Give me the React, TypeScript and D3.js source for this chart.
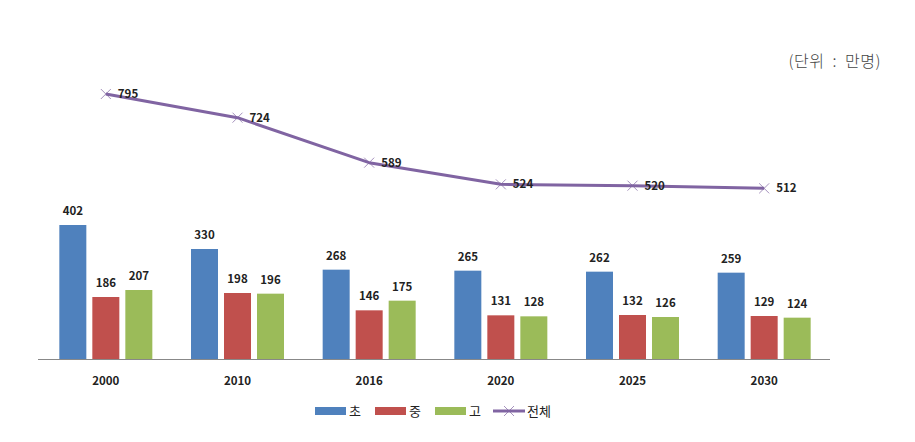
import React from "react";
import * as d3 from "d3";

const categories = ["2000", "2010", "2016", "2020", "2025", "2030"];
const elementary = [402, 330, 268, 265, 262, 259];
const middle = [186, 198, 146, 131, 132, 129];
const high = [207, 196, 175, 128, 126, 124];
const total = [795, 724, 589, 524, 520, 512];
const seriesNames = ["초", "중", "고", "전체"];
const colors = ["#4F81BD", "#C0504D", "#9BBB59", "#8064A2"];

const W = 915, H = 442;
const left = 40, right = 830, top = 59, bottom = 359;

export default function App() {
  const x = d3.scaleBand<string>().domain(categories).range([left, right]).paddingInner(0).paddingOuter(0);
  const y = d3.scaleLinear().domain([0, 900]).range([bottom, top]);
  const barW = 27, gap = 6;
  const bars = [elementary, middle, high];
  const font = "'Noto Sans CJK KR', 'Noto Sans', sans-serif";
  const lineGen = d3.line<number>()
    .x((_, i) => x(categories[i])! + x.bandwidth() / 2)
    .y((d) => y(d));
  const cross = (cx: number, cy: number, key: string) => (
    <path key={key} d={`M${cx - 5},${cy - 5}L${cx + 5},${cy + 5}M${cx - 5},${cy + 5}L${cx + 5},${cy - 5}`}
      stroke={colors[3]} strokeWidth={1} opacity={0.7} />
  );
  const legendItems = [
    { x: 315, label: seriesNames[0], c: colors[0] },
    { x: 375, label: seriesNames[1], c: colors[1] },
    { x: 435, label: seriesNames[2], c: colors[2] },
  ];
  return (
    <svg width={W} height={H} style={{ display: "block", position: "absolute", left: 0, top: 0 }} fontFamily={font}>
      <rect width={W} height={H} fill="#fff" />
      <text x={881} y={67} textAnchor="end" fontSize={16} fill="#444" fontWeight={300} letterSpacing={0.5} xmlSpace="preserve">(단위  :  만명)</text>
      {bars.map((s, si) =>
        s.map((v, i) => {
          const cx = x(categories[i])! + x.bandwidth() / 2;
          const bx = cx - 1.5 * barW - gap + si * (barW + gap);
          return (
            <g key={`${si}-${i}`}>
              <rect x={bx} y={y(v)} width={barW} height={bottom - y(v)} fill={colors[si]} />
              <text x={bx + barW / 2} y={y(v) - 10} textAnchor="middle" fontSize={11.5} fontWeight="bold" fill="#222">{v}</text>
            </g>
          );
        })
      )}
      <line x1={38} x2={right} y1={bottom + 0.5} y2={bottom + 0.5} stroke="#888" strokeWidth={1} />
      {categories.map((c) => (
        <text key={c} x={x(c)! + x.bandwidth() / 2} y={385} textAnchor="middle" fontSize={11.5} fontWeight="bold" fill="#222">{c}</text>
      ))}
      <path d={lineGen(total)!} fill="none" stroke={colors[3]} strokeWidth={3} strokeLinejoin="round" />
      {total.map((v, i) => {
        const cx = x(categories[i])! + x.bandwidth() / 2;
        return (
          <g key={`t${i}`}>
            {cross(cx, y(v), `c${i}`)}
            <text x={cx + 12} y={y(v) + 4} fontSize={11.5} fontWeight="bold" fill="#222">{v}</text>
          </g>
        );
      })}
      {legendItems.map((l) => (
        <g key={l.label}>
          <rect x={l.x} y={407} width={31} height={8} fill={l.c} />
          <text x={l.x + 34} y={416} fontSize={13} fill="#222">{l.label}</text>
        </g>
      ))}
      <line x1={493} x2={525} y1={411} y2={411} stroke={colors[3]} strokeWidth={3} />
      {cross(509, 411, "lg")}
      <text x={527} y={416} fontSize={13} fill="#222">{seriesNames[3]}</text>
    </svg>
  );
}
